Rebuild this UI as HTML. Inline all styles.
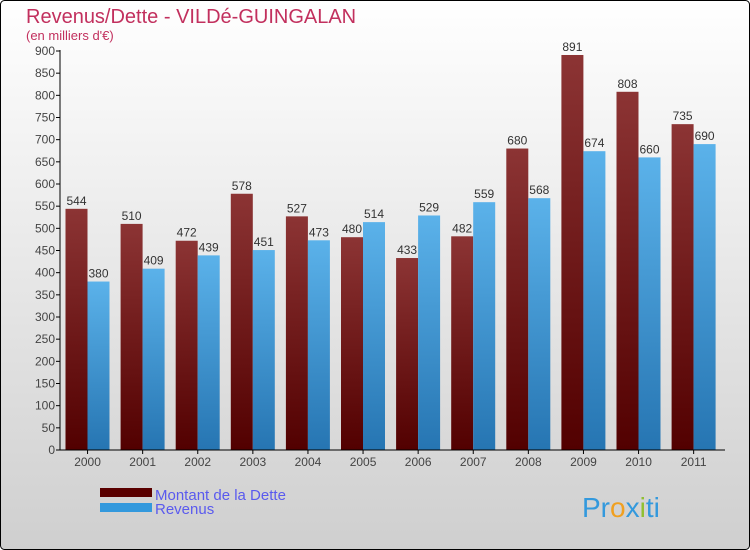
<!DOCTYPE html>
<html><head><meta charset="utf-8"><style>
body{margin:0;width:750px;height:550px;overflow:hidden;font-family:"Liberation Sans",sans-serif}
svg{display:block}
</style></head><body>
<svg id="c" width="750" height="550" xmlns="http://www.w3.org/2000/svg">
<defs>
<linearGradient id="bg" x1="0" y1="0" x2="0" y2="1"><stop offset="0" stop-color="#ffffff"/><stop offset="1" stop-color="#cfcfcf"/></linearGradient>
<linearGradient id="gd" x1="0" y1="0" x2="0" y2="1"><stop offset="0" stop-color="#8c3434"/><stop offset="1" stop-color="#520000"/></linearGradient>
<linearGradient id="gr" x1="0" y1="0" x2="0" y2="1"><stop offset="0" stop-color="#5bb2ea"/><stop offset="1" stop-color="#2675b2"/></linearGradient>
</defs>
<rect x="0.5" y="0.5" width="749" height="549" rx="4" fill="url(#bg)" stroke="#000"/>
<text x="26" y="23" font-size="20" fill="#c2305e">Revenus/Dette - VILDé-GUINGALAN</text>
<text x="26" y="40" font-size="13" fill="#c2305e">(en milliers d'€)</text>
<g id="plot"></g>
<rect x="100" y="488" width="52" height="9" fill="#5a0000"/>
<text x="155" y="500" font-size="15" fill="#5a5aee">Montant de la Dette</text>
<rect x="100" y="503" width="52" height="9" fill="#3399dd"/>
<text x="155" y="514" font-size="15" fill="#5a5aee">Revenus</text>
<text x="582" y="517" font-size="28"><tspan fill="#3399dd">Pr</tspan><tspan fill="#f0a020">o</tspan><tspan fill="#3399dd">x</tspan><tspan fill="#90c030">i</tspan><tspan fill="#3399dd">ti</tspan></text>
</svg>
<script>
const years=["2000","2001","2002","2003","2004","2005","2006","2007","2008","2009","2010","2011"];
const dette=[544,510,472,578,527,480,433,482,680,891,808,735];
const revenus=[380,409,439,451,473,514,529,559,568,674,660,690];
const yTicks=[0,50,100,150,200,250,300,350,400,450,500,550,600,650,700,750,800,850,900];
const NS="http://www.w3.org/2000/svg";
const g=document.getElementById('plot');
const x0=60,x1=725,y0=450,yTop=51,yMax=900;
const y=v=>y0-(v/yMax)*(y0-yTop);
const gw=55.1;
const gx=i=>x0+i*gw;
function mk(t,a){const e=document.createElementNS(NS,t);for(const k in a)e.setAttribute(k,a[k]);g.appendChild(e);return e;}
yTicks.forEach(v=>{
  const l=mk('line',{x1:x0-4,x2:x0,y1:y(v),y2:y(v),stroke:'#000'});
  
  
  const t=mk('text',{x:x0-5,y:y(v)+4,'font-size':12,fill:'#444','text-anchor':'end'});
  t.textContent=v;
  
  
});
years.forEach((yr,i)=>{
  const bx=gx(i)+5.5,bw=22;
  const d=mk('rect',{x:bx,y:y(dette[i]),width:bw,height:y0-y(dette[i]),fill:'url(#gd)'});
  
  
  const r=mk('rect',{x:bx+bw,y:y(revenus[i]),width:bw,height:y0-y(revenus[i]),fill:'url(#gr)'});
  
  
  const dl=mk('text',{x:bx+bw/2,y:y(dette[i])-4,'font-size':12,fill:'#333','text-anchor':'middle'});
  dl.textContent=dette[i];
  
  
  const rl=mk('text',{x:bx+bw*1.5,y:y(revenus[i])-4,'font-size':12,fill:'#333','text-anchor':'middle'});
  rl.textContent=revenus[i];
  
  
  const tk=mk('line',{x1:gx(i)+gw/2,x2:gx(i)+gw/2,y1:y0,y2:y0+4,stroke:'#000'});
  
  
  const xl=mk('text',{x:gx(i)+gw/2,y:y0+16,'font-size':12,fill:'#444','text-anchor':'middle'});
  xl.textContent=yr;
  
  
});
const ya=mk('line',{x1:x0,x2:x0,y1:yTop-1,y2:y0,stroke:'#000'});


const xa=mk('line',{x1:x0,x2:x1,y1:y0,y2:y0,stroke:'#000'});


</script>
</body></html>
